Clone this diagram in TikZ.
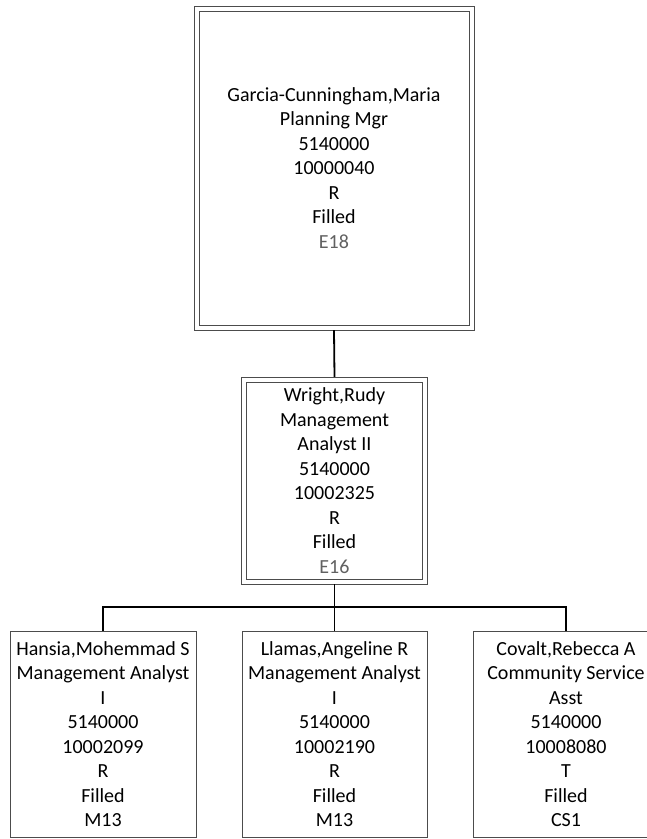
\documentclass[tikz,border=0pt]{standalone}
\usepackage{fontspec}
\setmainfont{Carlito}
\usetikzlibrary{fit}
\colorlet{gradegray}{black!62}
\colorlet{boxgray}{black!70}

\begin{document}
\begin{tikzpicture}[x=1pt,y=-1pt,
    posbox/.style={draw=boxgray,line width=0.7pt,align=center,inner sep=2pt,
      font=\fontsize{20}{24.5}\selectfont},
    frame/.style={draw=boxgray,line width=0.7pt,inner sep=4.5pt},
    link/.style={draw=black,line width=1.8pt}]
    \clip (0,0) rectangle (647,839);

    % Manager
    \node[posbox,minimum width=270pt,minimum height=314pt] (mgr) at (334,168)
        {Garcia-Cunningham,Maria\\Planning Mgr\\5140000\\10000040\\R\\Filled\\
         \textcolor{gradegray}{E18}};
    \node[frame,fit=(mgr)] (mgrframe) {};

    % Supervisor
    \node[posbox,minimum width=176pt,minimum height=197pt] (sup) at (334.5,480.5)
        {Wright,Rudy\\Management\\Analyst II\\5140000\\10002325\\R\\Filled\\
         \textcolor{gradegray}{E16}};
    \node[frame,fit=(sup)] (supframe) {};

    % Staff
    \node[posbox,minimum width=186pt,minimum height=206pt] (hansia) at (103,734)
        {Hansia,Mohemmad S\\Management Analyst\\I\\5140000\\10002099\\R\\Filled\\M13};
    \node[posbox,minimum width=185pt,minimum height=206pt] (llamas) at (334.5,734)
        {Llamas,Angeline R\\Management Analyst\\I\\5140000\\10002190\\R\\Filled\\M13};
    \node[posbox,minimum width=185pt,minimum height=206pt] (covalt) at (566,734)
        {Covalt,Rebecca A\\Community Service\\Asst\\5140000\\10008080\\T\\Filled\\CS1};

    % Connectors
    \coordinate (bus) at (334.5,607);
    \draw[link] (mgrframe.south) -- (supframe.north);
    \draw[link] (supframe.south) -- (bus);
    \draw[link] (hansia.north) |- (bus) -| (covalt.north);
    \draw[link] (bus) -- (llamas.north);
\end{tikzpicture}
\end{document}
